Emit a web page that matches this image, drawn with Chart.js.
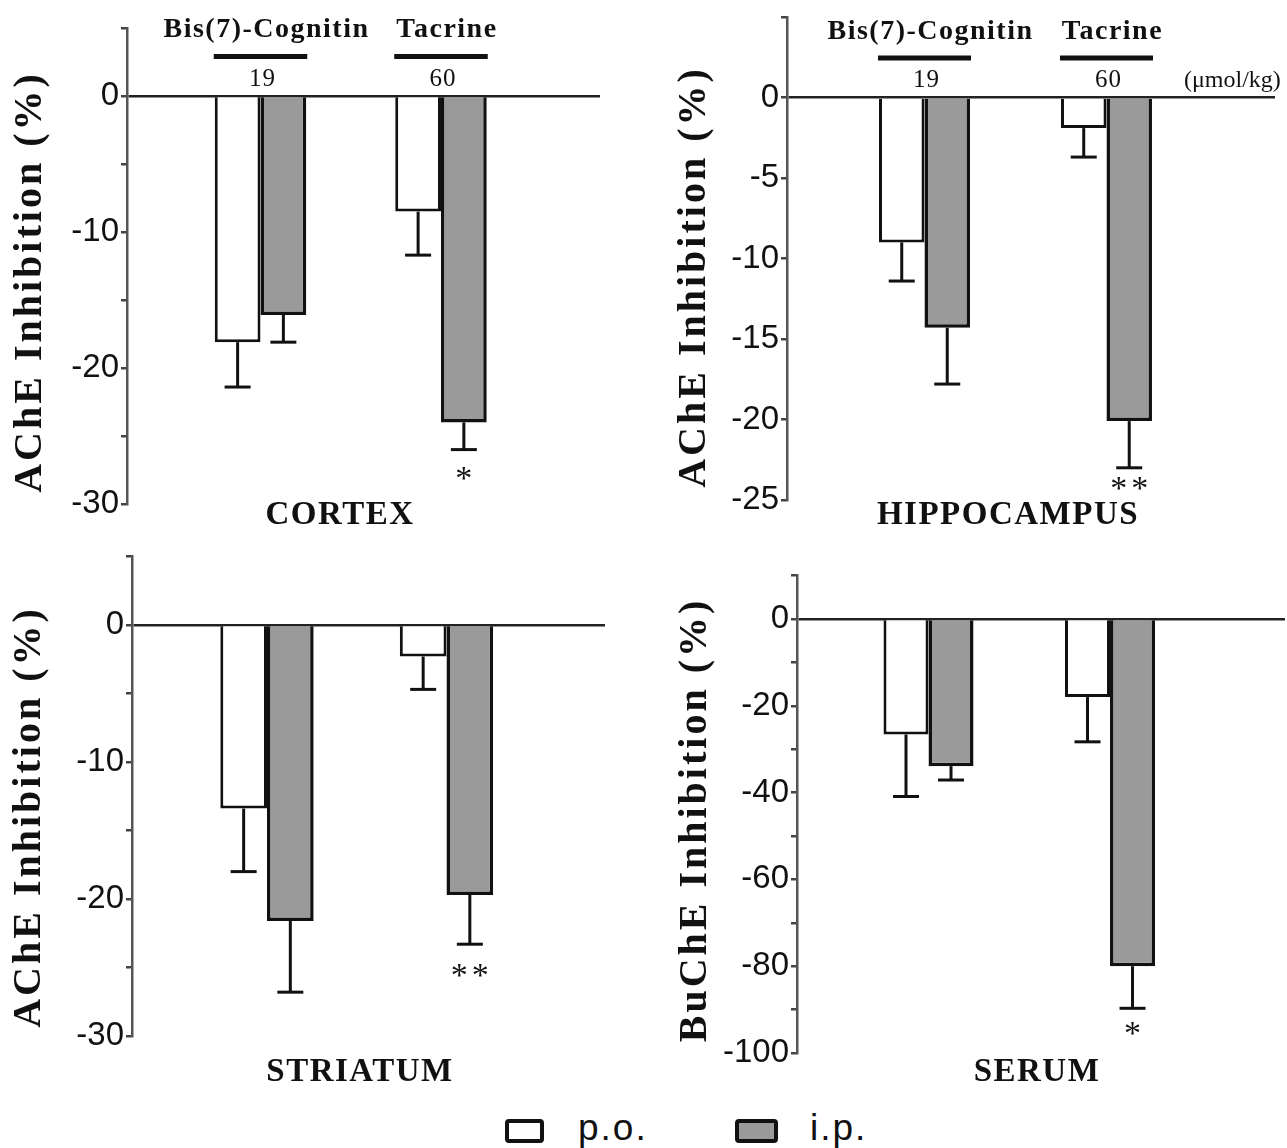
<!DOCTYPE html>
<html>
<head>
<meta charset="utf-8">
<script src="https://cdn.jsdelivr.net/npm/chart.js@4.4.1/dist/chart.umd.min.js"></script>
<style>
  html, body { margin:0; padding:0; background:#ffffff; width:1287px; height:1148px; overflow:hidden; }
  canvas { position:absolute; }
  .leg { position:absolute; font-family:'Liberation Sans', Arial, sans-serif; font-size:37px; line-height:36px; color:#111; letter-spacing:2px; }
  .box { position:absolute; box-sizing:border-box; border:4px solid #111; border-radius:4px; }
</style>
</head>
<body>
<canvas id="c1" width="640" height="545" style="left:0px;top:0px"></canvas>
<canvas id="c2" width="647" height="545" style="left:640px;top:0px"></canvas>
<canvas id="c3" width="640" height="555" style="left:0px;top:545px"></canvas>
<canvas id="c4" width="647" height="555" style="left:640px;top:545px"></canvas>

<div class="box" style="left:505px;top:1119px;width:39px;height:24px;background:#ffffff"></div>
<div class="leg" style="left:578px;top:1110px">p.o.</div>
<div class="box" style="left:735px;top:1119px;width:43px;height:24px;background:#9a9a9a"></div>
<div class="leg" style="left:810px;top:1110px">i.p.</div>

<script>
// ---------- data ----------
const groups = ['Bis(7)-Cognitin', 'Tacrine'];
const doses = ['19', '60'];
const doseUnit = '(μmol/kg)';
const series = ['p.o.', 'i.p.'];

const cortexPO = [-18.1, -8.5];
const cortexPOErr = [3.3, 3.2];
const cortexIP = [-16.1, -24.0];
const cortexIPErr = [2.0, 2.0];
const cortexSig = ['', '*'];

const hippoPO = [-9.0, -1.9];
const hippoPOErr = [2.4, 1.8];
const hippoIP = [-14.3, -20.1];
const hippoIPErr = [3.5, 2.9];
const hippoSig = ['', '**'];

const striatumPO = [-13.4, -2.3];
const striatumPOErr = [4.6, 2.4];
const striatumIP = [-21.6, -19.7];
const striatumIPErr = [5.2, 3.6];
const striatumSig = ['', '**'];

const serumPO = [-26.6, -18.0];
const serumPOErr = [14.3, 10.3];
const serumIP = [-33.9, -80.0];
const serumIPErr = [3.2, 9.7];
const serumSig = ['', '*'];

const achTitle = 'AChE Inhibition (%)';
const buchTitle = 'BuChE Inhibition (%)';

// ---------- drawing ----------
const SERIF = "'Liberation Serif', 'Times New Roman', serif";
const SANS = "'Liberation Sans', Arial, sans-serif";

function decor(cfg) {
  return {
    id: 'decor',
    afterDatasetsDraw(chart) {
      const ctx = chart.ctx, ys = chart.scales.y;
      ctx.save();
      ctx.strokeStyle = '#111';
      ctx.lineWidth = 3;
      chart.data.datasets.forEach((ds, di) => {
        const meta = chart.getDatasetMeta(di);
        meta.data.forEach((el, i) => {
          const v = ds.data[i].y, e = ds.errors[i];
          const yEnd = ys.getPixelForValue(v - e);
          ctx.beginPath();
          ctx.moveTo(el.x, el.y);
          ctx.lineTo(el.x, yEnd);
          ctx.stroke();
          ctx.beginPath();
          ctx.moveTo(el.x - 13, yEnd);
          ctx.lineTo(el.x + 13, yEnd);
          ctx.stroke();
        });
      });
      ctx.restore();
    },
    afterDraw(chart) {
      const ctx = chart.ctx, ys = chart.scales.y;
      const po = chart.getDatasetMeta(0).data, ip = chart.getDatasetMeta(1).data;
      const zero = ys.getPixelForValue(0);
      ctx.save();
      ctx.fillStyle = '#111';
      // header
      if (cfg.header) {
        groups.forEach((g, i) => {
          const left = po[i].x - po[i].width / 2, right = ip[i].x + ip[i].width / 2;
          const cx = (left + right) / 2;
          ctx.textAlign = 'center';
          ctx.textBaseline = 'middle';
          ctx.font = 'bold 28px ' + SERIF;
          ctx.letterSpacing = '1.5px';
          ctx.fillText(g, cx + 6, zero - 66);
          ctx.letterSpacing = '0px';
          ctx.fillRect(left - 1, zero - 42, right - left + 2, 5);
          ctx.font = '25px ' + SERIF;
          ctx.letterSpacing = '1px';
          ctx.fillText(doses[i], cx + 2, zero - 17);
          ctx.letterSpacing = '0px';
          if (cfg.unit && i === groups.length - 1) {
            ctx.textAlign = 'left';
            ctx.font = '24px ' + SERIF;
            ctx.fillText(doseUnit, right + 32, zero - 17);
          }
        });
      }
      // significance marks
      cfg.sig.forEach((s, i) => {
        if (!s) return;
        const ds = chart.data.datasets[1];
        const yEnd = ys.getPixelForValue(ds.data[i].y - ds.errors[i]);
        ctx.font = '34px ' + SERIF;
        ctx.textAlign = 'center';
        ctx.textBaseline = 'alphabetic';
        ctx.letterSpacing = '4px';
        ctx.fillText(s, ip[i].x + 2, yEnd + cfg.starOff + 16);
        ctx.letterSpacing = '0px';
      });
      // panel name
      ctx.font = 'bold 33px ' + SERIF;
      ctx.textAlign = 'center';
      ctx.textBaseline = 'middle';
      ctx.letterSpacing = '1.5px';
      ctx.fillText(cfg.name, cfg.nameX, cfg.nameY);
      // y title
      ctx.translate(cfg.titleX, cfg.titleY);
      ctx.rotate(-Math.PI / 2);
      ctx.font = 'bold 40px ' + SERIF;
      ctx.letterSpacing = '3px';
      ctx.fillText(cfg.title, 0, 0);
      ctx.letterSpacing = '0px';
      ctx.restore();
    }
  };
}

function panelChart(id, cfg) {
  return new Chart(document.getElementById(id), {
    type: 'bar',
    data: {
      datasets: [
        { label: series[0], data: cfg.po.map((v, i) => ({ x: i + 1, y: v })), errors: cfg.poErr,
          backgroundColor: '#ffffff', borderColor: '#111111', borderWidth: 3 },
        { label: series[1], data: cfg.ip.map((v, i) => ({ x: i + 1, y: v })), errors: cfg.ipErr,
          backgroundColor: '#9a9a9a', borderColor: '#111111', borderWidth: 3.5 }
      ]
    },
    options: {
      responsive: false,
      animation: false,
      events: [],
      layout: { padding: cfg.pad },
      plugins: { legend: { display: false }, tooltip: { enabled: false } },
      datasets: { bar: { barPercentage: 1, categoryPercentage: cfg.catPct } },
      scales: {
        x: { type: 'linear', display: false, offset: false, min: cfg.xMin, max: cfg.xMax, ticks: { stepSize: 100 } },
        y: {
          min: cfg.yMin, max: cfg.yMax,
          afterFit: (s) => { s.width = cfg.axisLeft; s.paddingTop = 0; s.paddingBottom = 0; },
          ticks: {
            stepSize: cfg.yStep, autoSkip: false, padding: 2, color: '#111',
            font: { family: SANS, size: 33 },
            callback: (v) => (v <= 0 && Math.abs(v % cfg.labelEvery) < 1e-9) ? String(v) : ''
          },
          grid: {
            color: (c) => (c.tick && c.tick.value === 0) ? '#222222' : 'rgba(0,0,0,0)',
            lineWidth: 2.5, tickColor: '#444444', tickWidth: 2.5, tickLength: 6
          },
          border: { color: '#555555', width: 2.5 }
        }
      }
    },
    plugins: [decor(cfg)]
  });
}

panelChart('c1', {
  po: cortexPO, poErr: cortexPOErr, ip: cortexIP, ipErr: cortexIPErr, sig: cortexSig,
  yMin: -30, yMax: 5, yStep: 5, labelEvery: 10,
  axisLeft: 127, pad: { left: 0, top: 28, right: 40, bottom: 41 },
  xMin: 0.2604, xMax: 2.881, catPct: 0.507,
  header: true, unit: false, starOff: 23,
  name: 'CORTEX', nameX: 340, nameY: 515, title: achTitle, titleX: 31, titleY: 282
});
panelChart('c2', {
  po: hippoPO, poErr: hippoPOErr, ip: hippoIP, ipErr: hippoIPErr, sig: hippoSig,
  yMin: -25, yMax: 5, yStep: 5, labelEvery: 5,
  axisLeft: 147, pad: { left: 0, top: 17, right: 12, bottom: 45 },
  xMin: 0.2445, xMax: 2.926, catPct: 0.50,
  header: true, unit: true, starOff: 15,
  name: 'HIPPOCAMPUS', nameX: 368, nameY: 515, title: achTitle, titleX: 55, titleY: 277
});
panelChart('c3', {
  po: striatumPO, poErr: striatumPOErr, ip: striatumIP, ipErr: striatumIPErr, sig: striatumSig,
  yMin: -30, yMax: 5, yStep: 5, labelEvery: 10,
  axisLeft: 132, pad: { left: 0, top: 11.5, right: 35, bottom: 64 },
  xMin: 0.248, xMax: 2.883, catPct: 0.52,
  header: false, unit: false, starOff: 26,
  name: 'STRIATUM', nameX: 360, nameY: 527, title: achTitle, titleX: 30, titleY: 272
});
panelChart('c4', {
  po: serumPO, poErr: serumPOErr, ip: serumIP, ipErr: serumIPErr, sig: serumSig,
  yMin: -100, yMax: 10, yStep: 10, labelEvery: 20,
  axisLeft: 157, pad: { left: 0, top: 30.6, right: 2, bottom: 47 },
  xMin: 0.2755, xMax: 2.964, catPct: 0.496,
  header: false, unit: false, starOff: 20,
  name: 'SERUM', nameX: 397, nameY: 527, title: buchTitle, titleX: 56, titleY: 275
});
</script>
</body>
</html>
